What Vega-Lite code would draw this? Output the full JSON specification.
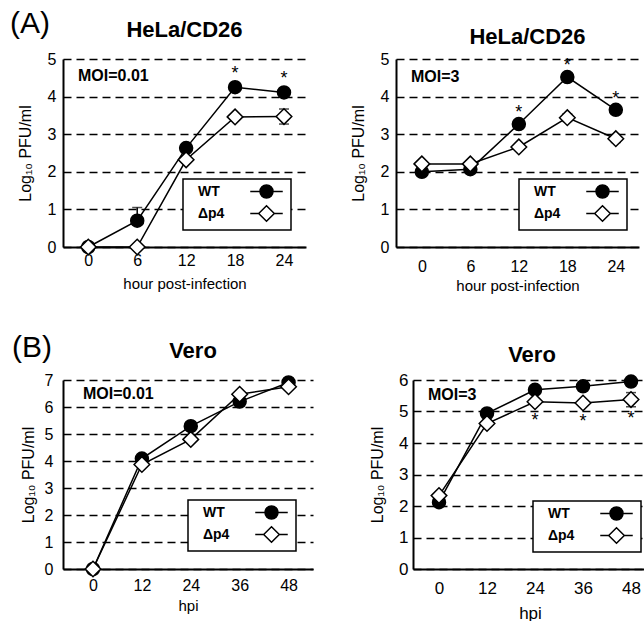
{
  "$schema": "https://vega.github.io/schema/vega-lite/v6.json",
  "padding": {"left": 10, "top": 9, "right": 0, "bottom": 0},
  "datasets": {
    "hela001": [
      {"strain": "WT", "t": 0, "v": 0, "lo": null, "hi": null, "sig": ""},
      {"strain": "WT", "t": 6, "v": 0.7, "lo": 0.7, "hi": 1.05, "sig": ""},
      {"strain": "WT", "t": 12, "v": 2.63, "lo": null, "hi": null, "sig": ""},
      {"strain": "WT", "t": 18, "v": 4.25, "lo": null, "hi": null, "sig": "*"},
      {"strain": "WT", "t": 24, "v": 4.11, "lo": null, "hi": null, "sig": "*"},
      {"strain": "Δp4", "t": 0, "v": 0, "lo": null, "hi": null, "sig": ""},
      {"strain": "Δp4", "t": 6, "v": 0, "lo": null, "hi": null, "sig": ""},
      {"strain": "Δp4", "t": 12, "v": 2.32, "lo": null, "hi": null, "sig": ""},
      {"strain": "Δp4", "t": 18, "v": 3.46, "lo": null, "hi": null, "sig": ""},
      {"strain": "Δp4", "t": 24, "v": 3.47, "lo": 3.27, "hi": 3.67, "sig": ""}
    ],
    "hela3": [
      {"strain": "WT", "t": 0, "v": 2.0, "lo": null, "hi": null, "sig": ""},
      {"strain": "WT", "t": 6, "v": 2.07, "lo": null, "hi": null, "sig": ""},
      {"strain": "WT", "t": 12, "v": 3.27, "lo": null, "hi": null, "sig": "*"},
      {"strain": "WT", "t": 18, "v": 4.52, "lo": null, "hi": null, "sig": "*"},
      {"strain": "WT", "t": 24, "v": 3.65, "lo": 3.55, "hi": 3.75, "sig": "*"},
      {"strain": "Δp4", "t": 0, "v": 2.21, "lo": null, "hi": null, "sig": ""},
      {"strain": "Δp4", "t": 6, "v": 2.21, "lo": null, "hi": null, "sig": ""},
      {"strain": "Δp4", "t": 12, "v": 2.66, "lo": null, "hi": null, "sig": ""},
      {"strain": "Δp4", "t": 18, "v": 3.44, "lo": 3.34, "hi": 3.54, "sig": ""},
      {"strain": "Δp4", "t": 24, "v": 2.88, "lo": 2.78, "hi": 2.98, "sig": ""}
    ],
    "vero001": [
      {"strain": "WT", "t": 0, "v": 0, "lo": null, "hi": null, "sig": ""},
      {"strain": "WT", "t": 12, "v": 4.09, "lo": null, "hi": null, "sig": ""},
      {"strain": "WT", "t": 24, "v": 5.29, "lo": null, "hi": null, "sig": ""},
      {"strain": "WT", "t": 36, "v": 6.2, "lo": null, "hi": null, "sig": ""},
      {"strain": "WT", "t": 48, "v": 6.91, "lo": null, "hi": null, "sig": ""},
      {"strain": "Δp4", "t": 0, "v": 0, "lo": null, "hi": null, "sig": ""},
      {"strain": "Δp4", "t": 12, "v": 3.87, "lo": null, "hi": null, "sig": ""},
      {"strain": "Δp4", "t": 24, "v": 4.8, "lo": null, "hi": null, "sig": ""},
      {"strain": "Δp4", "t": 36, "v": 6.47, "lo": null, "hi": null, "sig": ""},
      {"strain": "Δp4", "t": 48, "v": 6.75, "lo": null, "hi": null, "sig": ""}
    ],
    "vero3": [
      {"strain": "WT", "t": 0, "v": 2.12, "lo": null, "hi": null, "sig": ""},
      {"strain": "WT", "t": 12, "v": 4.94, "lo": null, "hi": null, "sig": ""},
      {"strain": "WT", "t": 24, "v": 5.69, "lo": null, "hi": null, "sig": ""},
      {"strain": "WT", "t": 36, "v": 5.8, "lo": null, "hi": null, "sig": ""},
      {"strain": "WT", "t": 48, "v": 5.95, "lo": null, "hi": null, "sig": ""},
      {"strain": "Δp4", "t": 0, "v": 2.33, "lo": null, "hi": null, "sig": ""},
      {"strain": "Δp4", "t": 12, "v": 4.62, "lo": null, "hi": null, "sig": ""},
      {"strain": "Δp4", "t": 24, "v": 5.31, "lo": null, "hi": null, "sig": "*"},
      {"strain": "Δp4", "t": 36, "v": 5.27, "lo": null, "hi": null, "sig": "*"},
      {"strain": "Δp4", "t": 48, "v": 5.38, "lo": 5.15, "hi": 5.6, "sig": "*"}
    ]
  },
  "config": {
    "font": "Liberation Sans",
    "view": {"stroke": null},
    "axis": {"labelFont": "Liberation Sans", "labelFontSize": 16, "labelColor": "black", "titleFont": "Liberation Sans", "titleFontWeight": "normal", "titleColor": "black", "domainColor": "black", "domainWidth": 2, "ticks": false, "tickSize": 0, "labelPadding": 7},
    "axisX": {"grid": false, "titleFontSize": 15},
    "axisY": {"grid": true, "gridColor": "black", "gridDash": [8, 5], "gridWidth": 1.5, "titleFontSize": 16},
    "title": {"font": "Liberation Sans", "fontSize": 22, "fontWeight": "bold", "color": "black", "anchor": "middle", "frame": "group", "baseline": "alphabetic"},
    "legend": {"labelFont": "Liberation Sans", "labelFontSize": 14, "labelFontWeight": "bold", "labelColor": "black", "strokeColor": "black", "strokeWidth": 1.5, "fillColor": "white"}
  },
  "spacing": 40,
  "vconcat": [
    {
      "title": {"text": "(A)", "anchor": "start", "frame": "bounds", "fontSize": 30, "fontWeight": "normal", "offset": 0, "dx": -7, "dy": 20},
      "spacing": 44,
      "hconcat": [
        {
          "width": 243, "height": 188,
          "title": {"text": "HeLa/CD26", "offset": 9},
          "data": {"name": "hela001"},
          "encoding": {
            "x": {"field": "t", "type": "quantitative", "scale": {"domain": [-3.1, 26.7], "nice": false, "zero": false}, "axis": {"values": [0, 6, 12, 18, 24], "title": "hour post-infection", "labelPadding": 5, "titlePadding": 8}},
            "y": {"field": "v", "type": "quantitative", "scale": {"domain": [0, 5], "nice": false}, "axis": {"values": [0, 1, 2, 3, 4, 5], "title": "Log₁₀ PFU/ml", "titlePadding": 14}}
          },
          "layer": [
            {"transform": [{"filter": "datum.lo != null"}], "mark": {"type": "errorbar", "ticks": {"size": 10}, "color": "black", "thickness": 1.5}, "encoding": {"y": {"field": "lo", "type": "quantitative", "scale": {"domain": [0, 5], "nice": false}, "title": "Log₁₀ PFU/ml"}, "y2": {"field": "hi"}}},
            {"mark": {"type": "line", "color": "black", "strokeWidth": 1.5}, "encoding": {"detail": {"field": "strain"}}},
            {"mark": {"type": "point", "filled": true, "stroke": "black", "strokeWidth": 1.5, "size": 169, "opacity": 1}, "encoding": {
              "shape": {"field": "strain", "type": "nominal", "scale": {"domain": ["WT", "Δp4"], "range": ["circle", "M-1.2,0L0,-1.2L1.2,0L0,1.2Z"]}, "legend": null},
              "fill": {"field": "strain", "type": "nominal", "scale": {"domain": ["WT", "Δp4"], "range": ["black", "white"]}, "legend": null}}},
            {"transform": [{"filter": "datum.sig == '*'"}], "mark": {"type": "text", "text": "*", "fontSize": 18, "dy": -13, "baseline": "middle", "color": "black"}},
            {"transform": [{"filter": "datum.strain == 'WT' && datum.t == 0"}], "mark": {"type": "text", "text": "MOI=0.01", "align": "left", "baseline": "middle", "fontSize": 16, "fontWeight": "bold", "color": "black"}, "encoding": {"x": {"datum": -1.26, "type": "quantitative"}, "y": {"datum": 4.55, "type": "quantitative"}}},
            {"data": {"values": []}, "mark": {"type": "point", "filled": true, "strokeWidth": 1.5, "opacity": 1}, "encoding": {
              "shape": {"field": "strain", "type": "nominal", "scale": {"domain": ["WT", "Δp4"], "range": ["M-2.5,0H-1M1,0H2.5M-1,0A1,1 0 1,0 1,0A1,1 0 1,0 -1,0Z", "M-2.5,0H-1.2M1.2,0H2.5M-1.2,0L0,-1.2L1.2,0L0,1.2Z"]}, "legend": {"title": null, "orient": "none", "legendX": 120, "legendY": 120, "symbolOpacity": 1, "symbolStrokeWidth": 1.5, "symbolSize": 169, "symbolOffset": 71, "labelOffset": -76, "padding": 5, "rowPadding": 1}},
              "fill": {"field": "strain", "type": "nominal", "scale": {"domain": ["WT", "Δp4"], "range": ["black", "white"]}, "legend": {"title": null, "orient": "none", "legendX": 120, "legendY": 120, "symbolOpacity": 1, "symbolStrokeWidth": 1.5, "symbolSize": 169, "symbolOffset": 71, "labelOffset": -76, "padding": 5, "rowPadding": 1}},
              "stroke": {"field": "strain", "type": "nominal", "scale": {"domain": ["WT", "Δp4"], "range": ["black", "black"]}, "legend": {"title": null, "orient": "none", "legendX": 120, "legendY": 120, "symbolOpacity": 1, "symbolStrokeWidth": 1.5, "symbolSize": 169, "symbolOffset": 71, "labelOffset": -76, "padding": 5, "rowPadding": 1}}}}
          ],
          "resolve": {"scale": {"shape": "independent", "fill": "independent", "stroke": "independent"}}
        },
        {
          "width": 243, "height": 188,
          "title": {"text": "HeLa/CD26", "offset": 2, "dx": 10},
          "data": {"name": "hela3"},
          "encoding": {
            "x": {"field": "t", "type": "quantitative", "scale": {"domain": [-3.2, 26.87], "nice": false, "zero": false}, "axis": {"values": [0, 6, 12, 18, 24], "title": "hour post-infection", "labelPadding": 11, "titlePadding": 4}},
            "y": {"field": "v", "type": "quantitative", "scale": {"domain": [0, 5], "nice": false}, "axis": {"values": [0, 1, 2, 3, 4, 5], "title": "Log₁₀ PFU/ml", "titlePadding": 14}}
          },
          "layer": [
            {"transform": [{"filter": "datum.lo != null"}], "mark": {"type": "errorbar", "ticks": {"size": 10}, "color": "black", "thickness": 1.5}, "encoding": {"y": {"field": "lo", "type": "quantitative", "scale": {"domain": [0, 5], "nice": false}, "title": "Log₁₀ PFU/ml"}, "y2": {"field": "hi"}}},
            {"mark": {"type": "line", "color": "black", "strokeWidth": 1.5}, "encoding": {"detail": {"field": "strain"}}},
            {"mark": {"type": "point", "filled": true, "stroke": "black", "strokeWidth": 1.5, "size": 169, "opacity": 1}, "encoding": {
              "shape": {"field": "strain", "type": "nominal", "scale": {"domain": ["WT", "Δp4"], "range": ["circle", "M-1.2,0L0,-1.2L1.2,0L0,1.2Z"]}, "legend": null},
              "fill": {"field": "strain", "type": "nominal", "scale": {"domain": ["WT", "Δp4"], "range": ["black", "white"]}, "legend": null}}},
            {"transform": [{"filter": "datum.sig == '*'"}], "mark": {"type": "text", "text": "*", "fontSize": 18, "dy": -11, "baseline": "middle", "color": "black"}},
            {"transform": [{"filter": "datum.strain == 'WT' && datum.t == 0"}], "mark": {"type": "text", "text": "MOI=3", "align": "left", "baseline": "middle", "fontSize": 16, "fontWeight": "bold", "color": "black"}, "encoding": {"x": {"datum": -1.34, "type": "quantitative"}, "y": {"datum": 4.52, "type": "quantitative"}}},
            {"data": {"values": []}, "mark": {"type": "point", "filled": true, "strokeWidth": 1.5, "opacity": 1}, "encoding": {
              "shape": {"field": "strain", "type": "nominal", "scale": {"domain": ["WT", "Δp4"], "range": ["M-2.5,0H-1M1,0H2.5M-1,0A1,1 0 1,0 1,0A1,1 0 1,0 -1,0Z", "M-2.5,0H-1.2M1.2,0H2.5M-1.2,0L0,-1.2L1.2,0L0,1.2Z"]}, "legend": {"title": null, "orient": "none", "legendX": 123, "legendY": 120, "symbolOpacity": 1, "symbolStrokeWidth": 1.5, "symbolSize": 169, "symbolOffset": 71, "labelOffset": -76, "padding": 5, "rowPadding": 1}},
              "fill": {"field": "strain", "type": "nominal", "scale": {"domain": ["WT", "Δp4"], "range": ["black", "white"]}, "legend": {"title": null, "orient": "none", "legendX": 123, "legendY": 120, "symbolOpacity": 1, "symbolStrokeWidth": 1.5, "symbolSize": 169, "symbolOffset": 71, "labelOffset": -76, "padding": 5, "rowPadding": 1}},
              "stroke": {"field": "strain", "type": "nominal", "scale": {"domain": ["WT", "Δp4"], "range": ["black", "black"]}, "legend": {"title": null, "orient": "none", "legendX": 123, "legendY": 120, "symbolOpacity": 1, "symbolStrokeWidth": 1.5, "symbolSize": 169, "symbolOffset": 71, "labelOffset": -76, "padding": 5, "rowPadding": 1}}}}
          ],
          "resolve": {"scale": {"shape": "independent", "fill": "independent", "stroke": "independent"}}
        }
      ]
    },
    {
      "title": {"text": "(B)", "anchor": "start", "frame": "bounds", "fontSize": 30, "fontWeight": "normal", "offset": 0, "dx": -8, "dy": 23},
      "spacing": 56,
      "hconcat": [
        {
          "width": 250, "height": 189,
          "title": {"text": "Vero", "offset": 9, "dx": 5},
          "data": {"name": "vero001"},
          "encoding": {
            "x": {"field": "t", "type": "quantitative", "scale": {"domain": [-7.36, 54], "nice": false, "zero": false}, "axis": {"values": [0, 12, 24, 36, 48], "title": "hpi", "labelPadding": 8, "titlePadding": 5}},
            "y": {"field": "v", "type": "quantitative", "scale": {"domain": [0, 7], "nice": false}, "axis": {"values": [0, 1, 2, 3, 4, 5, 6, 7], "title": "Log₁₀ PFU/ml", "labelPadding": 10, "titlePadding": 8}}
          },
          "layer": [
            {"mark": {"type": "line", "color": "black", "strokeWidth": 1.5}, "encoding": {"detail": {"field": "strain"}}},
            {"mark": {"type": "point", "filled": true, "stroke": "black", "strokeWidth": 1.5, "size": 169, "opacity": 1}, "encoding": {
              "shape": {"field": "strain", "type": "nominal", "scale": {"domain": ["WT", "Δp4"], "range": ["circle", "M-1.2,0L0,-1.2L1.2,0L0,1.2Z"]}, "legend": null},
              "fill": {"field": "strain", "type": "nominal", "scale": {"domain": ["WT", "Δp4"], "range": ["black", "white"]}, "legend": null}}},
            {"transform": [{"filter": "datum.strain == 'WT' && datum.t == 0"}], "mark": {"type": "text", "text": "MOI=0.01", "align": "left", "baseline": "middle", "fontSize": 16, "fontWeight": "bold", "color": "black"}, "encoding": {"x": {"datum": -2.45, "type": "quantitative"}, "y": {"datum": 6.48, "type": "quantitative"}}},
            {"data": {"values": []}, "mark": {"type": "point", "filled": true, "strokeWidth": 1.5, "opacity": 1}, "encoding": {
              "shape": {"field": "strain", "type": "nominal", "scale": {"domain": ["WT", "Δp4"], "range": ["M-2.5,0H-1M1,0H2.5M-1,0A1,1 0 1,0 1,0A1,1 0 1,0 -1,0Z", "M-2.5,0H-1.2M1.2,0H2.5M-1.2,0L0,-1.2L1.2,0L0,1.2Z"]}, "legend": {"title": null, "orient": "none", "legendX": 125, "legendY": 120, "symbolOpacity": 1, "symbolStrokeWidth": 1.5, "symbolSize": 169, "symbolOffset": 71, "labelOffset": -76, "padding": 5, "rowPadding": 1}},
              "fill": {"field": "strain", "type": "nominal", "scale": {"domain": ["WT", "Δp4"], "range": ["black", "white"]}, "legend": {"title": null, "orient": "none", "legendX": 125, "legendY": 120, "symbolOpacity": 1, "symbolStrokeWidth": 1.5, "symbolSize": 169, "symbolOffset": 71, "labelOffset": -76, "padding": 5, "rowPadding": 1}},
              "stroke": {"field": "strain", "type": "nominal", "scale": {"domain": ["WT", "Δp4"], "range": ["black", "black"]}, "legend": {"title": null, "orient": "none", "legendX": 125, "legendY": 120, "symbolOpacity": 1, "symbolStrokeWidth": 1.5, "symbolSize": 169, "symbolOffset": 71, "labelOffset": -76, "padding": 5, "rowPadding": 1}}}}
          ],
          "resolve": {"scale": {"shape": "independent", "fill": "independent", "stroke": "independent"}}
        },
        {
          "width": 234, "height": 189,
          "title": {"text": "Vero", "offset": 4, "dx": 2},
          "data": {"name": "vero3"},
          "encoding": {
            "x": {"field": "t", "type": "quantitative", "scale": {"domain": [-6.5, 52], "nice": false, "zero": false}, "axis": {"values": [0, 12, 24, 36, 48], "title": "hpi", "labelPadding": 11, "titlePadding": 9, "labelFontSize": 17, "titleFontSize": 17}},
            "y": {"field": "v", "type": "quantitative", "scale": {"domain": [0, 6], "nice": false}, "axis": {"values": [0, 1, 2, 3, 4, 5, 6], "title": "Log₁₀ PFU/ml", "labelPadding": 5, "titlePadding": 13, "labelFontSize": 17}}
          },
          "layer": [
            {"transform": [{"filter": "datum.lo != null"}], "mark": {"type": "errorbar", "ticks": {"size": 10}, "color": "black", "thickness": 1.5}, "encoding": {"y": {"field": "lo", "type": "quantitative", "scale": {"domain": [0, 6], "nice": false}, "title": "Log₁₀ PFU/ml"}, "y2": {"field": "hi"}}},
            {"mark": {"type": "line", "color": "black", "strokeWidth": 1.5}, "encoding": {"detail": {"field": "strain"}}},
            {"mark": {"type": "point", "filled": true, "stroke": "black", "strokeWidth": 1.5, "size": 169, "opacity": 1}, "encoding": {
              "shape": {"field": "strain", "type": "nominal", "scale": {"domain": ["WT", "Δp4"], "range": ["circle", "M-1.2,0L0,-1.2L1.2,0L0,1.2Z"]}, "legend": null},
              "fill": {"field": "strain", "type": "nominal", "scale": {"domain": ["WT", "Δp4"], "range": ["black", "white"]}, "legend": null}}},
            {"transform": [{"filter": "datum.sig == '*'"}], "mark": {"type": "text", "text": "*", "fontSize": 18, "dy": 19, "baseline": "middle", "color": "black"}},
            {"transform": [{"filter": "datum.strain == 'WT' && datum.t == 0"}], "mark": {"type": "text", "text": "MOI=3", "align": "left", "baseline": "middle", "fontSize": 16, "fontWeight": "bold", "color": "black"}, "encoding": {"x": {"datum": -2.75, "type": "quantitative"}, "y": {"datum": 5.52, "type": "quantitative"}}},
            {"data": {"values": []}, "mark": {"type": "point", "filled": true, "strokeWidth": 1.5, "opacity": 1}, "encoding": {
              "shape": {"field": "strain", "type": "nominal", "scale": {"domain": ["WT", "Δp4"], "range": ["M-2.5,0H-1M1,0H2.5M-1,0A1,1 0 1,0 1,0A1,1 0 1,0 -1,0Z", "M-2.5,0H-1.2M1.2,0H2.5M-1.2,0L0,-1.2L1.2,0L0,1.2Z"]}, "legend": {"title": null, "orient": "none", "legendX": 120, "legendY": 121, "symbolOpacity": 1, "symbolStrokeWidth": 1.5, "symbolSize": 169, "symbolOffset": 71, "labelOffset": -76, "padding": 5, "rowPadding": 1}},
              "fill": {"field": "strain", "type": "nominal", "scale": {"domain": ["WT", "Δp4"], "range": ["black", "white"]}, "legend": {"title": null, "orient": "none", "legendX": 120, "legendY": 121, "symbolOpacity": 1, "symbolStrokeWidth": 1.5, "symbolSize": 169, "symbolOffset": 71, "labelOffset": -76, "padding": 5, "rowPadding": 1}},
              "stroke": {"field": "strain", "type": "nominal", "scale": {"domain": ["WT", "Δp4"], "range": ["black", "black"]}, "legend": {"title": null, "orient": "none", "legendX": 120, "legendY": 121, "symbolOpacity": 1, "symbolStrokeWidth": 1.5, "symbolSize": 169, "symbolOffset": 71, "labelOffset": -76, "padding": 5, "rowPadding": 1}}}}
          ],
          "resolve": {"scale": {"shape": "independent", "fill": "independent", "stroke": "independent"}}
        }
      ]
    }
  ]
}
